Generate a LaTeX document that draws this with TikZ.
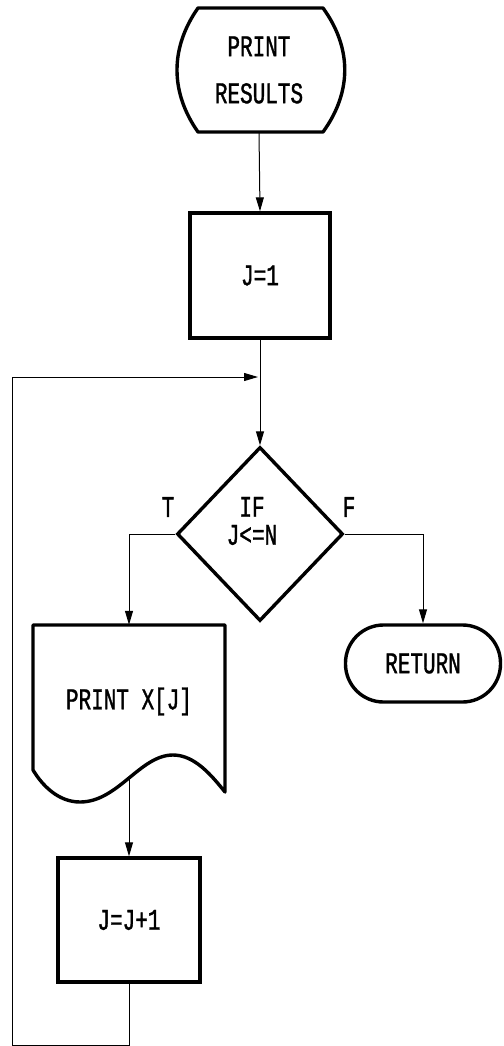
\documentclass[tikz,border=0pt]{standalone}
\usepackage{fontspec}
\newfontfamily\dotfont[FakeStretch=0.7,FakeBold=1.2]{Liberation Mono}
\usetikzlibrary{shapes.geometric,arrows.meta}

\begin{document}
\begin{tikzpicture}[x=1pt,y=-1pt,
  every node/.style={font=\dotfont\fontsize{30pt}{28pt}\selectfont},
  box/.style={draw,line width=3.4pt,minimum width=140pt,minimum height=125pt,inner sep=0pt},
  outline/.style={line width=3.4pt,line join=round},
  conn/.style={line width=1pt,-{Triangle[length=14pt,width=8pt]}}]
  \useasboundingbox (0,0) rectangle (503,1046);

  % PRINT RESULTS
  \node (start) [minimum width=163pt,minimum height=124pt,align=center] at (259,70) {PRINT\\[19pt]RESULTS};
  \draw[outline] (198,8) -- (323,8) .. controls (352,48) and (352,92) .. (323,132)
    -- (198,132) .. controls (170,92) and (170,48) .. (198,8) -- cycle;

  % J=1
  \node (init) [box] at (260,275.5) {J=1};

  % IF J<=N
  \node (cond) [diamond,draw,line width=3.4pt,minimum width=166pt,minimum height=174pt,inner sep=0pt] at (260,534) {};
  \node (condtext) [align=center] at (252,521) {IF\\J<=N};
  \node (tlabel) at (168,507) {T};
  \node (flabel) at (349,507) {F};

  % RETURN
  \node (ret) [draw,line width=3.4pt,rounded corners=38pt,minimum width=155pt,minimum height=77pt] at (423,663.5) {RETURN};

  % PRINT X[J]
  \node (printx) [minimum width=192pt,minimum height=153pt] at (129,701.5) {PRINT X[J]};
  \draw[outline] (33,625) -- (225,625) -- (225,792) .. controls (212,776) and (195,755) .. (173,755)
    .. controls (140,755) and (118,802) .. (80,802) .. controls (58,802) and (42,785) .. (33,770) -- cycle;

  % J=J+1
  \node (inc) [box,minimum width=142pt,minimum height=124pt] at (129,920) {J=J+1};

  % connectors
  \coordinate (loopbot) at (12,1045.5);
  \coordinate (join) at (258,377);
  \draw[conn] (start.south) -- (init.north);
  \draw[conn] (init.south) -- (cond.north);
  \draw[conn] (cond.west) -| (printx.north);
  \draw[conn] (cond.east) -| (ret.north);
  \draw[conn] (printx.south) -- (inc.north);
  \draw[conn] (inc.south) |- (loopbot) |- (join);
\end{tikzpicture}
\end{document}
